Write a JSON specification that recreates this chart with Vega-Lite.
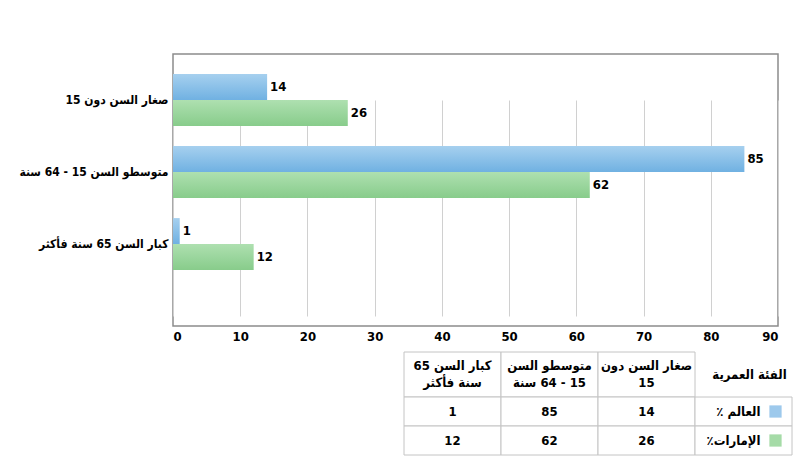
{
  "$schema": "https://vega.github.io/schema/vega-lite/v6.json",
  "autosize": {"type": "none"},
  "width": 605,
  "height": 272,
  "padding": {"left": 173, "top": 54, "right": 16, "bottom": 142},
  "background": "white",
  "config": {
    "view": {"stroke": "#8c8c8c", "strokeWidth": 1.5},
    "font": "DejaVu Sans Condensed",
    "text": {"font": "DejaVu Sans Condensed"}
  },
  "datasets": {
    "bars": [
      {"cat": "صغار السن دون 15", "series": "العالم ٪", "value": 14},
      {"cat": "صغار السن دون 15", "series": "الإمارات٪", "value": 26},
      {"cat": "متوسطو السن 15 - 64 سنة", "series": "العالم ٪", "value": 85},
      {"cat": "متوسطو السن 15 - 64 سنة", "series": "الإمارات٪", "value": 62},
      {"cat": "كبار السن 65 سنة فأكثر", "series": "العالم ٪", "value": 1},
      {"cat": "كبار السن 65 سنة فأكثر", "series": "الإمارات٪", "value": 12}
    ],
    "table": [
      {"row": "h", "col": "c1", "label": "كبار السن 65\nسنة فأكثر"},
      {"row": "h", "col": "c2", "label": "متوسطو السن\n\u200f15 - 64 سنة"},
      {"row": "h", "col": "c3", "label": "صغار السن دون\n15"},
      {"row": "h", "col": "c4", "label": "الفئة العمرية"},
      {"row": "w", "col": "c1", "label": "1"},
      {"row": "w", "col": "c2", "label": "85"},
      {"row": "w", "col": "c3", "label": "14"},
      {"row": "w", "col": "c4", "label": "\u200fالعالم ٪\u200f"},
      {"row": "u", "col": "c1", "label": "12"},
      {"row": "u", "col": "c2", "label": "62"},
      {"row": "u", "col": "c3", "label": "26"},
      {"row": "u", "col": "c4", "label": "\u200fالإمارات٪\u200f"}
    ],
    "swatches": [
      {"row": "w", "col": "c4", "series": "العالم ٪"},
      {"row": "u", "col": "c4", "series": "الإمارات٪"}
    ]
  },
  "layer": [
    {
      "data": {"name": "bars"},
      "encoding": {
        "y": {
          "field": "cat", "type": "nominal",
          "sort": ["صغار السن دون 15", "متوسطو السن 15 - 64 سنة", "كبار السن 65 سنة فأكثر"],
          "scale": {"range": [10, 226], "paddingInner": 0.28, "paddingOuter": 0.14},
          "axis": {"title": null, "ticks": false, "domain": false, "labelFontSize": 12, "labelFontWeight": "bold", "labelColor": "#000", "labelPadding": 5, "labelFont": "DejaVu Sans Condensed"}
        },
        "yOffset": {"field": "series", "type": "nominal", "sort": ["العالم ٪", "الإمارات٪"], "scale": {"paddingInner": 0, "paddingOuter": 0}},
        "x": {
          "field": "value", "type": "quantitative",
          "scale": {"domain": [0, 90], "nice": false},
          "axis": {"title": null, "values": [0,10,20,30,40,50,60,70,80,90], "ticks": false, "domain": false, "grid": true, "gridColor": "#d0d0d0", "labelFontSize": 13, "labelFontWeight": "bold", "labelColor": "#000", "labelPadding": 4, "labelFont": "DejaVu Sans Condensed"}
        }
      },
      "layer": [
        {
          "transform": [{"filter": "datum.series == 'العالم ٪'"}],
          "mark": {"type": "bar", "color": {"gradient": "linear", "x1": 0, "y1": 0, "x2": 0, "y2": 1, "stops": [{"offset": 0, "color": "#a6d0ef"}, {"offset": 1, "color": "#70b1e2"}]}}
        },
        {
          "transform": [{"filter": "datum.series == 'الإمارات٪'"}],
          "mark": {"type": "bar", "color": {"gradient": "linear", "x1": 0, "y1": 0, "x2": 0, "y2": 1, "stops": [{"offset": 0, "color": "#aee0b0"}, {"offset": 1, "color": "#88cc8b"}]}}
        },
        {
          "mark": {"type": "text", "align": "left", "baseline": "middle", "dx": 3, "fontSize": 13, "fontWeight": "bold", "color": "#000"},
          "encoding": {"text": {"field": "value", "type": "quantitative"}}
        }
      ]
    },
    {
      "data": {"name": "table"},
      "encoding": {
        "x": {"field": "col", "type": "nominal", "sort": ["c1", "c2", "c3", "c4"], "scale": {"range": [231, 619], "paddingInner": 0, "paddingOuter": 0}, "axis": null}
      },
      "layer": [
        {
          "transform": [{"filter": "datum.row == 'h'"}],
          "encoding": {
            "y": {"field": "row", "type": "nominal", "scale": {"range": [298, 343], "paddingInner": 0, "paddingOuter": 0}, "axis": null}
          },
          "layer": [
            {
              "transform": [{"filter": "datum.col != 'c4'"}],
              "mark": {"type": "rect", "fill": "white", "stroke": "#c4c4c4", "strokeWidth": 1}
            },
            {
              "transform": [{"filter": "datum.col != 'c4'"}],
              "mark": {"type": "text", "align": "center", "baseline": "middle", "fontSize": 13, "fontWeight": "bold", "color": "#000", "lineBreak": "\n", "lineHeight": 17, "dy": -9},
              "encoding": {"text": {"field": "label", "type": "nominal"}}
            },
            {
              "transform": [{"filter": "datum.col == 'c4'"}],
              "mark": {"type": "text", "align": "center", "baseline": "middle", "fontSize": 13, "fontWeight": "bold", "color": "#000", "dx": 6},
              "encoding": {"text": {"field": "label", "type": "nominal"}}
            }
          ]
        },
        {
          "transform": [{"filter": "datum.row != 'h'"}],
          "encoding": {
            "y": {"field": "row", "type": "nominal", "sort": ["w", "u"], "scale": {"range": [343, 401], "paddingInner": 0, "paddingOuter": 0}, "axis": null}
          },
          "layer": [
            {
              "mark": {"type": "rect", "fill": "white", "stroke": "#c4c4c4", "strokeWidth": 1}
            },
            {
              "transform": [{"filter": "datum.col != 'c4'"}],
              "mark": {"type": "text", "align": "center", "baseline": "middle", "fontSize": 13, "fontWeight": "bold", "color": "#000"},
              "encoding": {"text": {"field": "label", "type": "nominal"}}
            },
            {
              "transform": [{"filter": "datum.col == 'c4'"}],
              "mark": {"type": "text", "align": "right", "baseline": "middle", "dx": 17, "fontSize": 13, "fontWeight": "bold", "color": "#000"},
              "encoding": {"text": {"field": "label", "type": "nominal"}}
            },
            {
              "data": {"name": "swatches"},
              "mark": {"type": "square", "size": 150, "filled": true, "opacity": 1, "xOffset": 32},
              "encoding": {
                "color": {"field": "series", "type": "nominal", "scale": {"domain": ["العالم ٪", "الإمارات٪"], "range": ["#9dc9ec", "#a5dba7"]}, "legend": null}
              }
            }
          ]
        }
      ],
      "resolve": {"scale": {"y": "independent"}}
    }
  ],
  "resolve": {"scale": {"x": "independent", "y": "independent"}}
}
